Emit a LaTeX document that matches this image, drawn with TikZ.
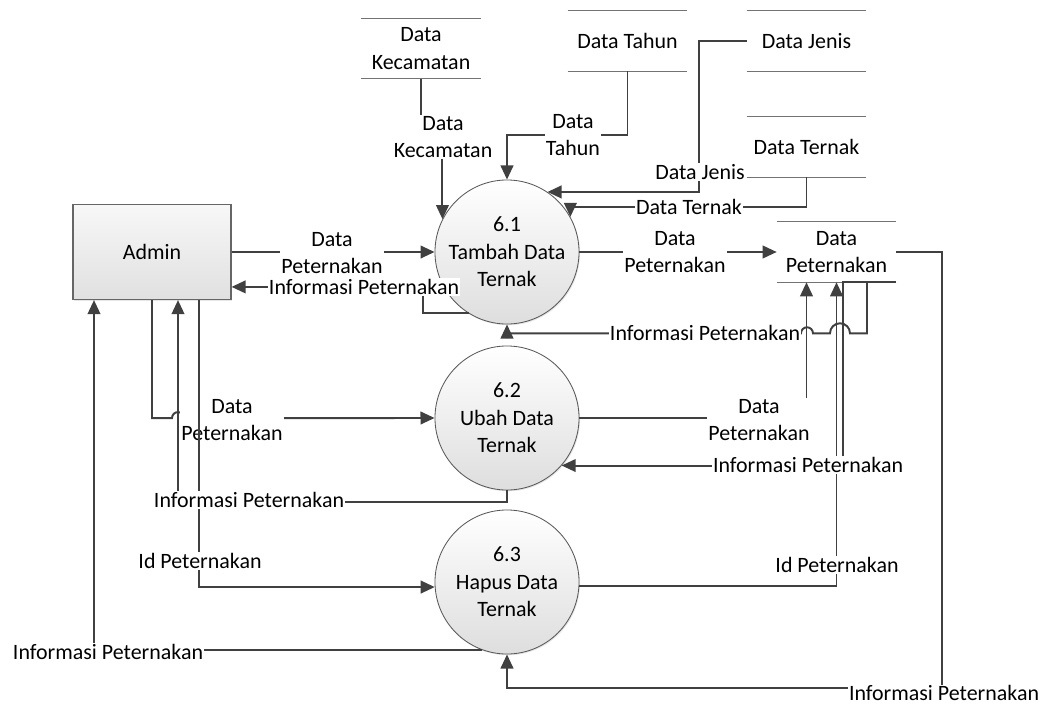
\documentclass[tikz,border=0pt]{standalone}
\usepackage{fontspec}
\setmainfont{Carlito}
\usetikzlibrary{arrows.meta,calc,shadows}

\tikzset{
  flow/.style={draw=black!75, line width=1.4pt, -{Triangle[length=10pt,width=9pt]}},
  wire/.style={draw=black!75, line width=1.4pt},
  proc/.style={circle, draw=black!65, line width=0.6pt, minimum size=3.6cm, inner sep=0pt, align=center,
    top color=white, bottom color=black!13, drop shadow={opacity=0.2, shadow xshift=0.7pt, shadow yshift=-0.9pt}},
  ext/.style={draw=black!60, line width=0.8pt, minimum width=3.95cm, minimum height=2.375cm,
    top color=black!3, bottom color=black!12, drop shadow={opacity=0.2, shadow xshift=0.7pt, shadow yshift=-0.9pt}},
  store/.style={minimum width=2.975cm, minimum height=1.5cm, align=center, inner sep=0pt},
  storeline/.style={draw=black!55, line width=0.8pt},
  lbl/.style={fill=white, inner sep=1pt, align=center},
}

\begin{document}
\begin{tikzpicture}[x=0.025cm, y=-0.025cm, font=\fontsize{15.6}{19.5}\selectfont]
			\useasboundingbox (0,0) rectangle (1042,704);
			
			%%%%% ENTITY AND PROCESSES %%%%%
			\node[ext] (admin) at (152,252) {Admin};
			\node[proc] (p1) at (507,252) {6.1\\Tambah Data\\Ternak};
			\node[proc] (p2) at (507,418) {6.2\\Ubah Data\\Ternak};
			\node[proc] (p3) at (507,582) {6.3\\Hapus Data\\Ternak};
			
			%%%%% DATA STORES %%%%%
			\node[store] (kec) at (421,48.5) {Data\\Kecamatan};
			\node[store] (tahun) at (627.5,41) {Data Tahun};
			\node[store] (jenis) at (806.5,41) {Data Jenis};
			\node[store] (ternak) at (806.5,147) {Data Ternak};
			\node[store] (peter) at (836.5,252) {Data\\Peternakan};
			\foreach \s in {kec,tahun,jenis,ternak,peter} {
				\draw[storeline] (\s.north west) -- (\s.north east);
				\draw[storeline] (\s.south west) -- (\s.south east);
			}
			
			%%%%% FLOWS INTO 6.1 %%%%%
			\draw[flow] (kec.south) -- ++(0,59) -| (p1.153);
			\draw[flow] (tahun.south) -- ++(0,64) -| (p1.north);
			\draw[flow] (jenis.west) -- ++(-48,0) |- (p1.56);
			\draw[flow] (ternak.south) -- ++(0,30) -| (p1.29);
			\draw[flow] (admin.east) -- (p1.west);
			\draw[flow] (p1.238) -- ++(-46,0) |- ($(admin.south east)!0.137!(admin.north east)$);
			\draw[flow] (p1.east) -- (peter.west);
			\draw[flow] ($(peter.south)+(30.5,0)$) -- ++(0,51) -- ++(-17,0)
				arc[start angle=0,end angle=180,radius=0.25cm] -- ++(-17,0)
				arc[start angle=0,end angle=180,radius=0.15cm] -| (p1.south);
			
			%%%%% FLOWS OF 6.2 %%%%%
			\draw[flow] (admin.south) -- ++(0,118) -- ++(20,0)
				arc[start angle=180,end angle=0,radius=0.15cm] -- (p2.west);
			\draw[flow] (p2.south) -- ++(0,12) -| ($(admin.south)+(26,0)$);
			\draw[flow] (p2.east) -| ($(peter.south)+(-30,0)$);
			\draw[flow] (peter.south east) -- ($(peter.south)+(6.5,0)$) |- (p2.319);
			
			%%%%% FLOWS OF 6.3 %%%%%
			\draw[flow] (p3.357) -| (peter.south);
			\draw[flow] (p3.250) -| ($(admin.south)+(-58,0)$);
			\draw[flow] (peter.east) -- ++(46,0) -- ++(0,436) -| (p3.south);
			
			\node[lbl] (ladm2) at (232,420) {Data\\Peternakan};
			\draw[flow] ($(admin.south)+(47,0)$) |- (p3.184);
			
			%%%%% LABELS %%%%%
			\node[lbl] (lkec) at (443,137) {Data\\Kecamatan};
			\node[lbl] (ltahun) at (573,135) {Data\\Tahun};
			\node[lbl] (ljenis) at (700,172) {Data Jenis};
			\node[lbl] (lternak) at (689,207) {Data Ternak};
			\node[lbl] (ladm1) at (332,253) {Data\\Peternakan};
			\node[lbl] (linf1) at (364,287) {Informasi Peternakan};
			\node[lbl] (lpet1) at (675,252) {Data\\Peternakan};
			\node[lbl] (linf2) at (705,333) {Informasi Peternakan};
			\node[lbl] (lpet2) at (759,420) {Data\\Peternakan};
			\node[lbl] (linf3) at (808,465) {Informasi Peternakan};
			\node[lbl] (linf4) at (249,500) {Informasi Peternakan};
			\node[lbl] (lid1) at (200,561) {Id Peternakan};
			\node[lbl] (lid2) at (837,565) {Id Peternakan};
			\node[lbl] (linf5) at (108,652) {Informasi Peternakan};
			\node[lbl, inner sep=0.5pt] (linf6) at (944,693) {Informasi Peternakan};
		\end{tikzpicture}
\end{document}
